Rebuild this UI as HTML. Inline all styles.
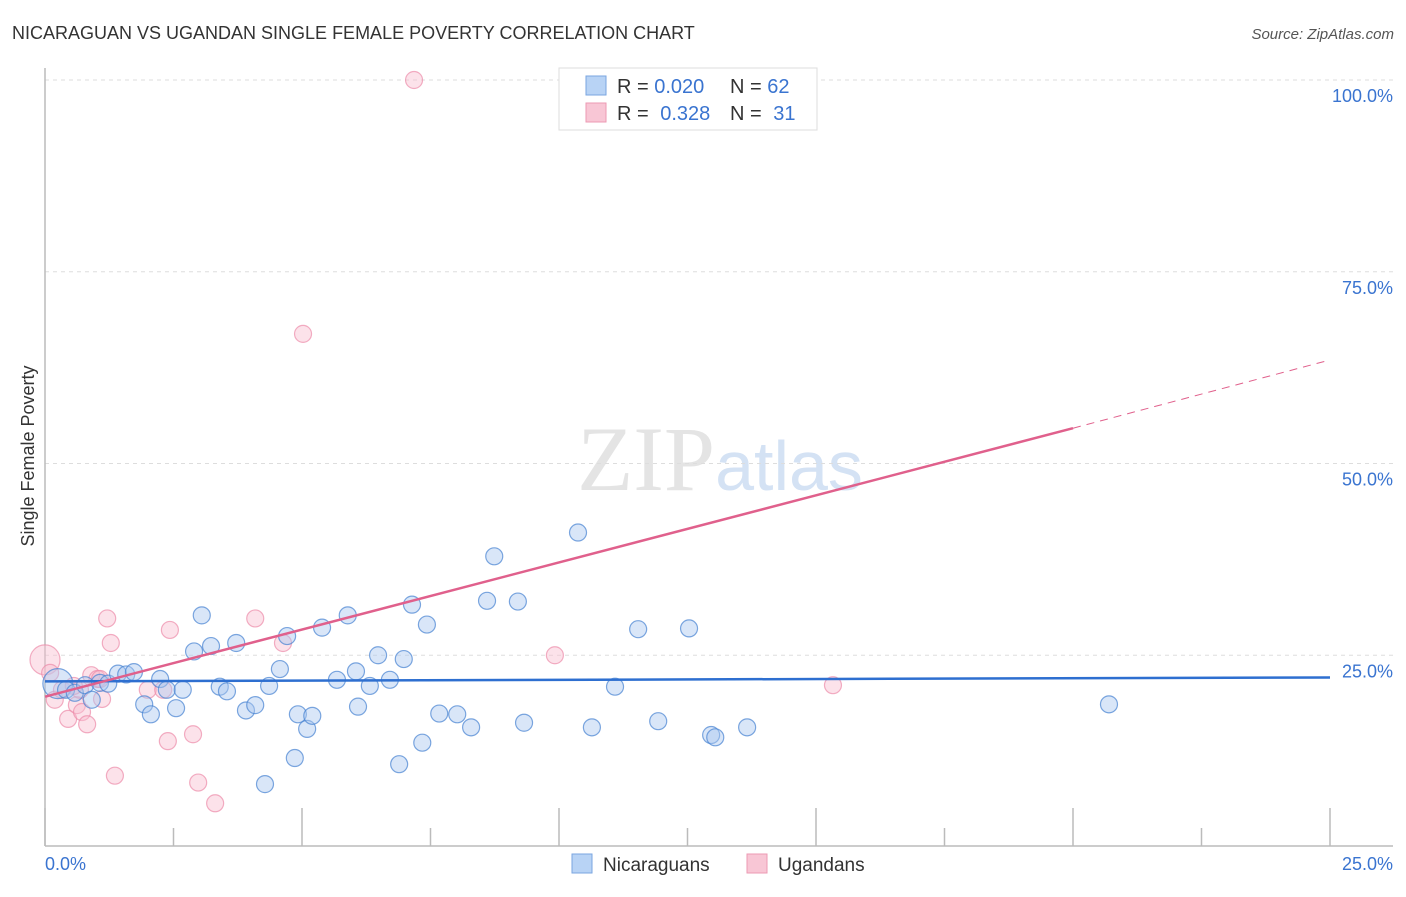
<!DOCTYPE html>
<html><head><meta charset="utf-8"><style>
body{margin:0;background:#fff;font-family:"Liberation Sans",sans-serif;}
svg text{font-family:"Liberation Sans",sans-serif;}
</style></head><body>
<svg width="1406" height="892" viewBox="0 0 1406 892" xmlns="http://www.w3.org/2000/svg">
<text x="12" y="39" font-size="18" fill="#333">NICARAGUAN VS UGANDAN SINGLE FEMALE POVERTY CORRELATION CHART</text>
<text x="1394" y="39" font-size="15" fill="#555" font-style="italic" text-anchor="end">Source: ZipAtlas.com</text>
<text x="720" y="490" font-size="92" fill="#e4e4e4" text-anchor="middle" font-family="Liberation Serif"><tspan font-family="Liberation Serif">ZIP</tspan><tspan fill="#d4e2f4" font-size="70" font-family="Liberation Sans">atlas</tspan></text>
<g id="grid"></g>
<line x1="45" y1="68" x2="45" y2="846" stroke="#bbb" stroke-width="1.5"/>
<line x1="45" y1="846" x2="1393" y2="846" stroke="#bbb" stroke-width="1.5"/>
<g id="xticks"></g>
<text transform="translate(34,456) rotate(-90)" font-size="18" fill="#333" text-anchor="middle">Single Female Poverty</text>
<text x="45" y="870" font-size="18" fill="#3a74d0">0.0%</text>
<text x="1393" y="870" font-size="18" fill="#3a74d0" text-anchor="end">25.0%</text>
<g id="pts"></g>
<g id="lines"></g>
<g>
<rect x="559" y="68" width="258" height="62" fill="#fff" stroke="#ddd"/>
<rect x="586" y="76" width="20" height="19" fill="#b8d3f5" stroke="#7aa6e0"/>
<rect x="586" y="103" width="20" height="19" fill="#f8c6d5" stroke="#ec9ab3"/>
<text x="617" y="93" font-size="20" fill="#333">R = <tspan fill="#3a74d0">0.020</tspan><tspan x="730">N = </tspan><tspan fill="#3a74d0">62</tspan></text>
<text x="617" y="120" font-size="20" fill="#333">R = <tspan fill="#3a74d0" dx="6">0.328</tspan><tspan x="730">N = </tspan><tspan fill="#3a74d0" dx="6">31</tspan></text>
</g>
<g>
<rect x="572" y="854" width="20" height="19" fill="#b8d3f5" stroke="#7aa6e0"/>
<text x="603" y="871" font-size="19" fill="#333">Nicaraguans</text>
<rect x="747" y="854" width="20" height="19" fill="#f8c6d5" stroke="#ec9ab3"/>
<text x="778" y="871" font-size="19" fill="#333">Ugandans</text>
</g>
</svg>
<script>
const yTicks=[25,50,75,100];
const yTickLabels=["25.0%","50.0%","75.0%","100.0%"];
const xTicks=[0,2.5,5,7.5,10,12.5,15,17.5,20,22.5,25];
const blueX=[0.25,0.41,0.58,0.78,0.91,1.07,1.23,1.42,1.58,1.73,1.93,2.06,2.24,2.37,2.55,2.68,2.9,3.05,3.23,3.4,3.54,3.72,3.91,4.09,4.36,4.57,4.71,4.92,5.1,5.2,4.86,4.28,5.39,5.68,5.89,6.05,6.09,6.32,6.48,6.71,6.98,7.14,7.43,6.89,7.34,7.67,8.02,8.29,8.6,8.74,9.2,9.32,10.37,10.64,11.09,11.54,11.93,12.53,12.96,13.04,13.66,20.7];
const blueY=[21.3,20.5,20.1,21.1,19.2,21.4,21.3,22.6,22.5,22.8,18.6,17.3,21.9,20.5,18.1,20.5,25.5,30.2,26.2,20.9,20.3,26.6,17.8,18.5,21.0,23.2,27.5,17.3,15.4,17.1,11.6,8.2,28.6,21.8,30.2,22.9,18.3,21.0,25.0,21.8,24.5,31.6,29.0,10.8,13.6,17.4,17.3,15.6,32.1,37.9,32.0,16.2,41.0,15.6,20.9,28.4,16.4,28.5,14.6,14.3,15.6,18.6];
const pinkX=[0.0,0.1,0.19,0.33,0.45,0.62,0.72,0.82,0.9,1.02,1.11,1.21,1.28,1.36,2.0,2.3,2.43,2.39,2.88,2.98,3.31,4.09,4.63,5.02,7.18,9.92,15.33,0.68,0.56,1.07];
const pinkY=[24.4,22.7,19.2,20.5,16.7,18.5,17.6,16.0,22.4,21.9,19.3,29.8,26.6,9.3,20.5,20.5,28.3,13.8,14.7,8.4,5.7,29.8,26.6,66.9,100,25.0,21.1,20.5,21.0,21.9];
const blueTrend=[[0,21.6],[25,22.1]];
const pinkTrend=[[0,19.6],[20,54.6],[25,63.5]];
const X=v=>45+v*51.4, Y=v=>847-v*7.67;
const NS="http://www.w3.org/2000/svg";
function mk(t,a,p){const e=document.createElementNS(NS,t);for(const k in a)e.setAttribute(k,a[k]);p.appendChild(e);return e;}
const grid=document.getElementById('grid');
yTicks.forEach((t,i)=>{
 const l=mk('line',{x1:45,x2:1393,y1:Y(t),y2:Y(t),stroke:'#ddd','stroke-dasharray':'4,4'},grid);
 
 
 const tx=mk('text',{x:1393,y:Y(t)+22,'font-size':18,fill:'#3a74d0','text-anchor':'end'},grid);
 tx.textContent=yTickLabels[i];
 
 
});
const xt=document.getElementById('xticks');
xTicks.forEach((t,i)=>{
 const l=mk('line',{x1:X(t),x2:X(t),y1:(i%2==0||i==10)?808:828,y2:846,stroke:'#bbb','stroke-width':1.5},xt);
 
 
});
const pts=document.getElementById('pts');
pinkX.forEach((x,i)=>{
 const c=mk('circle',{cx:X(x),cy:Y(pinkY[i]),r:i==0?15:8.5,fill:'rgba(248,190,208,0.45)',stroke:'rgba(236,140,170,0.7)','stroke-width':1.2},pts);
 
 
});
blueX.forEach((x,i)=>{
 const c=mk('circle',{cx:X(x),cy:Y(blueY[i]),r:i==0?15:8.5,fill:'rgba(170,200,240,0.45)',stroke:'rgba(70,130,210,0.7)','stroke-width':1.2},pts);
 
 
});
const lg=document.getElementById('lines');
const bl=mk('line',{x1:X(blueTrend[0][0]),y1:Y(blueTrend[0][1]),x2:X(blueTrend[1][0]),y2:Y(blueTrend[1][1]),stroke:'#2e6fd0','stroke-width':2.5},lg);


const pl=mk('line',{x1:X(pinkTrend[0][0]),y1:Y(pinkTrend[0][1]),x2:X(pinkTrend[1][0]),y2:Y(pinkTrend[1][1]),stroke:'#e0608c','stroke-width':2.5},lg);


const pd=mk('line',{x1:X(pinkTrend[1][0]),y1:Y(pinkTrend[1][1]),x2:X(pinkTrend[2][0]),y2:Y(pinkTrend[2][1]),stroke:'#e0608c','stroke-width':1,'stroke-dasharray':'8,6'},lg);


</script>
</body></html>
